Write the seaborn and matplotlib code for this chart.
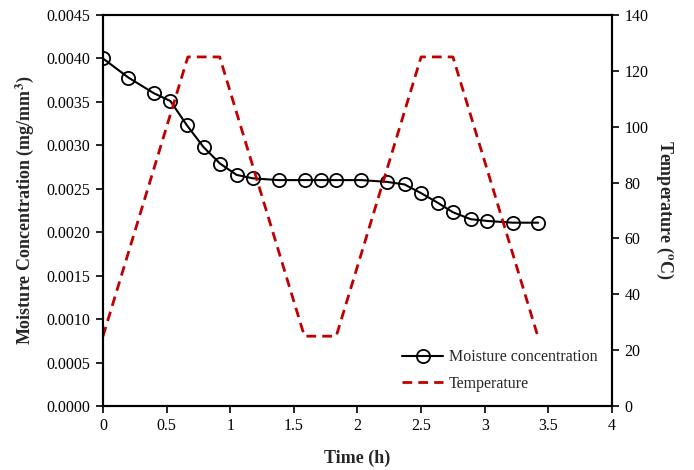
import numpy as np
import pandas as pd
import matplotlib
matplotlib.use("Agg")
import matplotlib.pyplot as plt
import seaborn as sns

# Moisture concentration measurements
time_h = [0.0, 0.2, 0.4, 0.53, 0.66, 0.79, 0.92, 1.05, 1.18, 1.38, 1.59, 1.71, 1.83,
          2.03, 2.23, 2.37, 2.5, 2.63, 2.75, 2.89, 3.02, 3.22, 3.42]
moisture = [0.00400, 0.00378, 0.00360, 0.00351, 0.00323, 0.00298, 0.00279, 0.00266,
            0.00262, 0.00260, 0.00260, 0.00260, 0.00260, 0.00260, 0.00258, 0.00255,
            0.00245, 0.00234, 0.00223, 0.00215, 0.00213, 0.00211, 0.00211]

# Temperature cycle profile
temp_time = [0.0, 0.667, 0.917, 1.583, 1.833, 2.5, 2.75, 3.417]
temperature = [25, 125, 125, 25, 25, 125, 125, 25]

sns.set_theme(style="white")
plt.rcParams["font.family"] = ["Liberation Serif", "DejaVu Serif"]
plt.rcParams["mathtext.fontset"] = "stix"

df_m = pd.DataFrame({"Time": time_h, "Moisture": moisture})
df_t = pd.DataFrame({"Time": temp_time, "Temperature": temperature})

fig = plt.figure(figsize=(6.94, 4.70), dpi=100)
ax = fig.add_axes([0.1484, 0.1362, 0.7334, 0.8318])
ax2 = ax.twinx()

sns.lineplot(data=df_m, x="Time", y="Moisture", ax=ax, color="black", lw=1.5,
             marker="o", markersize=9.5, markerfacecolor="none",
             markeredgecolor="black", markeredgewidth=1.3,
             label="Moisture concentration", legend=False)
sns.lineplot(data=df_t, x="Time", y="Temperature", ax=ax2, color="#C00000",
             lw=2.0, linestyle=(0, (3.5, 2.2)), label="Temperature", legend=False)

ax.set_xlim(0, 4)
ax.set_ylim(0, 0.0045)
ax2.set_ylim(0, 140)
ax.set_xticks(np.arange(0, 4.01, 0.5))
ax.set_xticklabels(["0", "0.5", "1", "1.5", "2", "2.5", "3", "3.5", "4"])
ax.set_yticks(np.arange(0, 0.00451, 0.0005))
ax.set_yticklabels([f"{v:.4f}" for v in np.arange(0, 0.00451, 0.0005)])
ax2.set_yticks(np.arange(0, 141, 20))

for a in (ax, ax2):
    for s in a.spines.values():
        s.set_visible(True)
        s.set_color("black")
        s.set_linewidth(1.5)
    a.tick_params(direction="out", length=5, width=1.2, colors="black",
                  labelsize=11.5, pad=4)
ax.tick_params(axis="x", bottom=True, pad=4)
ax.tick_params(axis="y", left=True)
ax2.tick_params(axis="y", right=True)

ax.set_xlabel("Time (h)", fontsize=13, fontweight="bold", labelpad=11)
ax.set_ylabel("Moisture Concentration (mg/mm$^\\mathbf{3}$)", fontsize=13,
              fontweight="bold", labelpad=8)
ax2.set_ylabel("Temperature ($^\\mathbf{o}$C)", fontsize=13, fontweight="bold",
               rotation=270, labelpad=19)

h1, l1 = ax.get_legend_handles_labels()
h2, l2 = ax2.get_legend_handles_labels()
ax2.legend(h1 + h2, l1 + l2, loc="lower right", bbox_to_anchor=(1.0, 0.0),
           frameon=False, fontsize=11.5, handlelength=2.6, handletextpad=0.35,
           labelspacing=0.65)

fig.savefig("out.png", dpi=100)
